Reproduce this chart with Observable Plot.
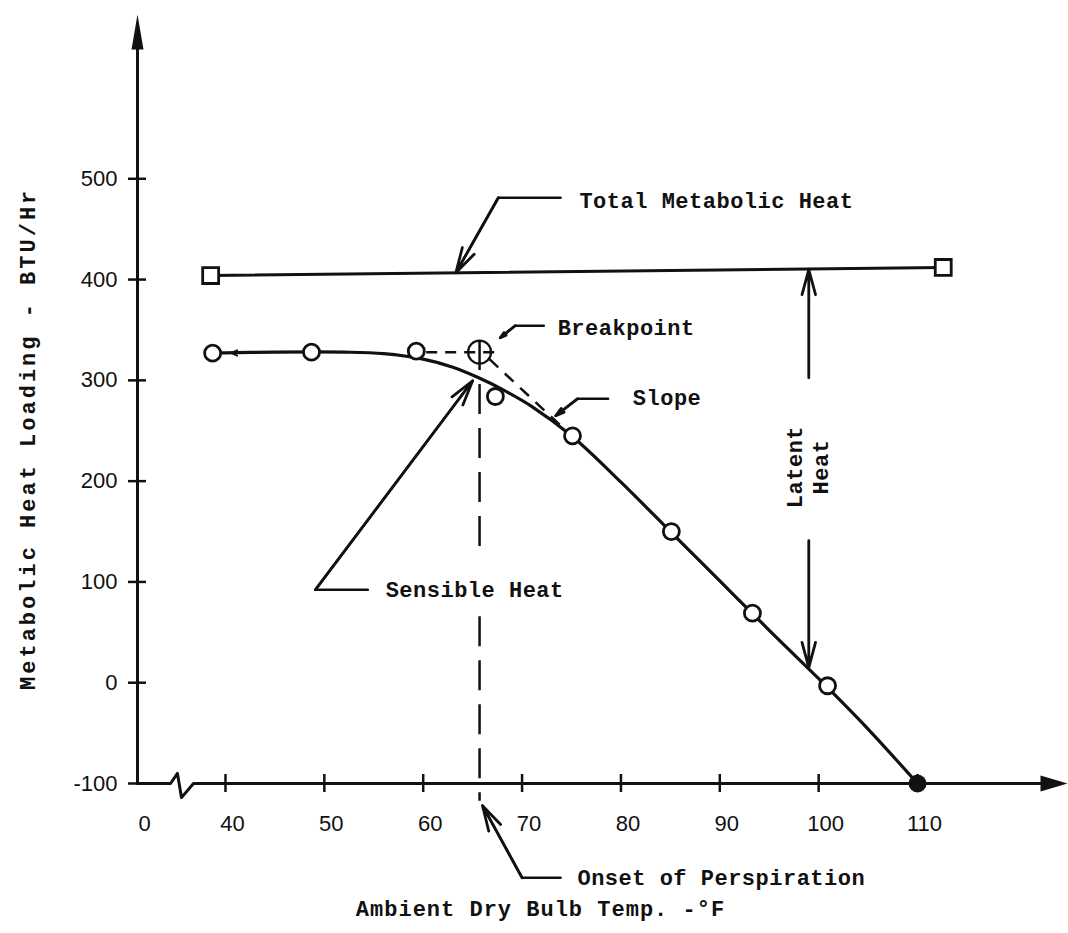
<!DOCTYPE html>
<html><head><meta charset="utf-8">
<script src="https://cdn.jsdelivr.net/npm/d3@7"></script>
<script src="https://cdn.jsdelivr.net/npm/@observablehq/plot@0.6"></script>
<style>
html,body{margin:0;padding:0;background:#fff;}
svg g[font-family="Liberation Mono"]{letter-spacing:0.5px;}
svg g.ytitle{letter-spacing:3px;}
svg g.xtitle{letter-spacing:1px;}
</style></head><body><div id="chart"></div>
<script>
// ---- data ----
const xTicks = [40, 50, 60, 70, 80, 90, 100, 110];
const xTickLabels = ["40", "50", "60", "70", "80", "90", "100", "110"];
const xOriginLabel = "0";
const yTicks = [-100, 0, 100, 200, 300, 400, 500];
const yTickLabels = ["-100", "0", "100", "200", "300", "400", "500"];

// observed sensible heat points (open circles)
const sensibleTemp = [38.7, 48.7, 59.3, 67.3, 75.1, 85.1, 93.3, 100.9];
const sensibleHeat = [327, 328, 329, 284, 245, 150, 69, -3];
// end point (filled)
const endTemp = [110];
const endHeat = [-100];
// faired sensible heat curve
const curveTemp = [38.7, 45, 52, 56, 60, 63, 65.5, 68, 71, 75, 80, 85, 90, 95, 100, 105, 110];
const curveHeat = [327, 328, 328, 326.5, 321, 313, 303, 291, 274, 245, 199, 150, 101, 52, 4, -46, -100];
// total metabolic heat (squares)
const totalTemp = [38.5, 112.6];
const totalHeat = [404, 412];
// breakpoint
const breakTemp = [65.7];
const breakHeat = [328];

// annotation texts and anchors (data units)
const labels = ["Total Metabolic Heat", "Breakpoint", "Slope", "Sensible Heat", "Onset of Perspiration"];
const labelTemp = [75.8, 73.6, 81.2, 56.2, 75.6];
const labelHeat = [478, 352, 283, 92.3, -193.5];
const leaders = [
  [[73.9, 481.2], [67.6, 481.2], [63.3, 406.7]],
  [[72.2, 354.2], [69.3, 354.2], [67.8, 342.3]],
  [[78.7, 281.7], [75.6, 281.7], [73.4, 264.9]],
  [[54.4, 92.3], [49.1, 92.3], [65.0, 299.6]],
  [[73.9, -193.5], [70.0, -193.5], [66.0, -122]]
];
const latentArrows = [[99, 302.6, 99, 410], [99, 141, 99, 15]];
const latentLabel = ["Latent\nHeat"];
const latentTemp = 98.77, latentHeatPos = 214;
const onsetDashes = [[65.7, 340, 65.7, 132], [65.7, 66, 65.7, -117]];
const flatDash = [[60.3, 328, 67.2, 328]];
const slopeDash = [[66.7, 321, 73.8, 256]];
const smallArrow = [[42.5, 327.2, 40.6, 327.2]];

const xTitle = "Ambient Dry Bulb Temp. -°F";
const yTitle = "Metabolic Heat Loading - BTU/Hr";

// axis frame (data units)
const xDomain = [31.1, 125.17];
const yDomain = [-100, 663];
const xAxisLine = [[31.1, -100], [34.44, -100], [35.14, -90], [35.55, -114], [36.76, -100], [122.6, -100]];
const yAxisLine = [[31.1, -100], [31.1, 630]];

const ink = "#111";
const mono = "Liberation Mono";

const arrowUp = {draw(ctx) { ctx.moveTo(0, 0); ctx.lineTo(6, 35); ctx.lineTo(-6, 35); ctx.closePath(); }};
const arrowRight = {draw(ctx) { ctx.moveTo(0, 0); ctx.lineTo(-27, -8); ctx.lineTo(-27, 8); ctx.closePath(); }};

const idx = a => a.map((_, i) => i);

const plot = Plot.plot({
  width: 1068, height: 933,
  marginLeft: 137, marginRight: 1, marginTop: 14, marginBottom: 150,
  x: {domain: xDomain, axis: null},
  y: {domain: yDomain, axis: null},
  style: {background: "#fff", fontFamily: "Liberation Sans", fontSize: "22px", color: ink},
  marks: [
    // axes
    Plot.line(xAxisLine, {x: d => d[0], y: d => d[1], stroke: ink, strokeWidth: 3}),
    Plot.line(yAxisLine, {x: d => d[0], y: d => d[1], stroke: ink, strokeWidth: 3}),
    Plot.dot([0], {x: xDomain[0], y: yDomain[1], symbol: arrowUp, r: 5, fill: ink, stroke: "none"}),
    Plot.dot([0], {x: xDomain[1], y: yDomain[0], symbol: arrowRight, r: 5, fill: ink, stroke: "none"}),
    Plot.axisX({ticks: xTicks, tickSize: 18, dy: -9, strokeWidth: 2.5, fill: "none", label: null}),
    Plot.axisX({ticks: [xDomain[0], ...xTicks], tickSize: 0, tickPadding: 32, dx: 7, label: null,
      tickFormat: d => d === xDomain[0] ? xOriginLabel : xTickLabels[xTicks.indexOf(d)]}),
    Plot.axisY({ticks: yTicks, tickSize: 18, dx: 9, strokeWidth: 2.5, fill: "none", label: null}),
    Plot.axisY({ticks: yTicks, tickSize: 0, tickPadding: 20, label: null,
      tickFormat: d => yTickLabels[yTicks.indexOf(d)]}),

    // dashed construction lines
    Plot.link(onsetDashes, {x1: d => d[0], y1: d => d[1], x2: d => d[2], y2: d => d[3], stroke: ink, strokeWidth: 2.5, strokeDasharray: "30,14"}),
    Plot.link(flatDash, {x1: d => d[0], y1: d => d[1], x2: d => d[2], y2: d => d[3], stroke: ink, strokeWidth: 2.5, strokeDasharray: "11,8"}),
    Plot.link(slopeDash, {x1: d => d[0], y1: d => d[1], x2: d => d[2], y2: d => d[3], stroke: ink, strokeWidth: 2.5, strokeDasharray: "12,9"}),

    // total metabolic heat
    Plot.line(idx(totalTemp), {x: i => totalTemp[i], y: i => totalHeat[i], stroke: ink, strokeWidth: 3}),
    Plot.dot(idx(totalTemp), {x: i => totalTemp[i], y: i => totalHeat[i], symbol: "square", r: 9, fill: "#fff", stroke: ink, strokeWidth: 2.8}),

    // sensible heat curve
    Plot.line(idx(curveTemp), {x: i => curveTemp[i], y: i => curveHeat[i], curve: "catmull-rom", stroke: ink, strokeWidth: 3.2}),
    Plot.arrow(smallArrow, {x1: d => d[0], y1: d => d[1], x2: d => d[2], y2: d => d[3], stroke: ink, strokeWidth: 2, headLength: 9, headAngle: 50}),
    Plot.dot(idx(sensibleTemp), {x: i => sensibleTemp[i], y: i => sensibleHeat[i], r: 8, fill: "#fff", stroke: ink, strokeWidth: 2.8}),
    Plot.dot(idx(endTemp), {x: i => endTemp[i], y: i => endHeat[i], r: 9, fill: ink, stroke: "none"}),
    Plot.dot(idx(breakTemp), {x: i => breakTemp[i], y: i => breakHeat[i], r: 11.5, fill: "none", stroke: ink, strokeWidth: 2.2}),

    // leaders
    ...leaders.map(pts => Plot.line(pts, {x: d => d[0], y: d => d[1], stroke: ink, strokeWidth: 2.5})),
    Plot.arrow(leaders, {x1: p => p[1][0], y1: p => p[1][1], x2: p => p[2][0], y2: p => p[2][1], stroke: ink, strokeWidth: 2.8, headLength: 14, headAngle: 30}),
    Plot.arrow(latentArrows, {x1: d => d[0], y1: d => d[1], x2: d => d[2], y2: d => d[3], stroke: ink, strokeWidth: 2.8, headLength: 14, headAngle: 30}),

    // annotation texts
    Plot.text(labels, {x: (d, i) => labelTemp[i], y: (d, i) => labelHeat[i], text: d => d, textAnchor: "start", lineAnchor: "middle",
      fontFamily: mono, fontWeight: "bold", fontSize: 22, fill: ink}),
    Plot.text(latentLabel, {x: latentTemp, y: latentHeatPos, text: d => d, rotate: -90, lineHeight: 1.2,
      fontFamily: mono, fontWeight: "bold", fontSize: 22, fill: ink}),
    Plot.text([xTitle], {x: 71.86, y: -224, text: d => d, fontFamily: mono, fontWeight: "bold", fontSize: 22, fill: ink, className: "xtitle"}),
    Plot.text([yTitle], {x: 20.0, y: 242, text: d => d, rotate: -90, fontFamily: mono, fontWeight: "bold", fontSize: 22, fill: ink, className: "ytitle"})
  ]
});
document.getElementById("chart").appendChild(plot);
</script>
</body></html>
